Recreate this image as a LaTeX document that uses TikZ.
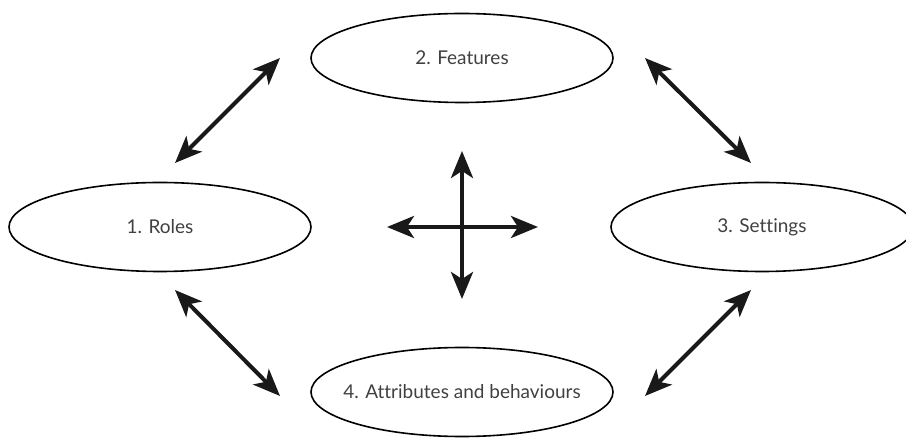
\documentclass[tikz,border=0pt]{standalone}
\usepackage{fontspec}
\setmainfont{Lato}[Ligatures=NoCommon]
\usepackage{xcolor}
\usepackage{tikz}
\usetikzlibrary{shapes.geometric,arrows.meta}

\newcommand{\ovaltext}[1]{\makebox[0pt][c]{#1}}

\begin{document}
\begin{tikzpicture}[x=1pt,y=-1pt,
        main node/.style={ellipse,draw,line width=1.6pt,minimum width=302pt,minimum height=89pt,inner sep=0pt,
            font=\fontsize{19}{22}\selectfont,text=black!75},
        big arrow/.style={line width=4pt,{Stealth[length=27pt,width=22pt,inset=7pt]}-{Stealth[length=27pt,width=22pt,inset=7pt]},black!90}]
        \useasboundingbox (0,0) rectangle (906,438);
        \node[main node] (1) at (160,227) {\ovaltext{1. Roles}};
        \node[main node] (2) at (462,58) {\ovaltext{2. Features}};
        \node[main node] (3) at (762,227) {\ovaltext{3. Settings}};
        \node[main node] (4) at (462,392) {\ovaltext{4. Attributes and behaviours}};
        % arrow ends
        \coordinate (12a) at (175,163);
        \coordinate (12b) at (280,58);
        \coordinate (23a) at (645,58);
        \coordinate (23b) at (751,163);
        \coordinate (14a) at (175,290);
        \coordinate (14b) at (280,396);
        \coordinate (34a) at (751,290);
        \coordinate (34b) at (645,396);
        \coordinate (up) at (462,151);
        \coordinate (down) at (462,299);
        \coordinate (left) at (387,227);
        \coordinate (right) at (538,227);
        \path[big arrow]
            (12a) edge (12b)
            (23a) edge (23b)
            (14a) edge (14b)
            (34a) edge (34b)
            (up) edge (down)
            (left) edge (right);
    \end{tikzpicture}
\end{document}
